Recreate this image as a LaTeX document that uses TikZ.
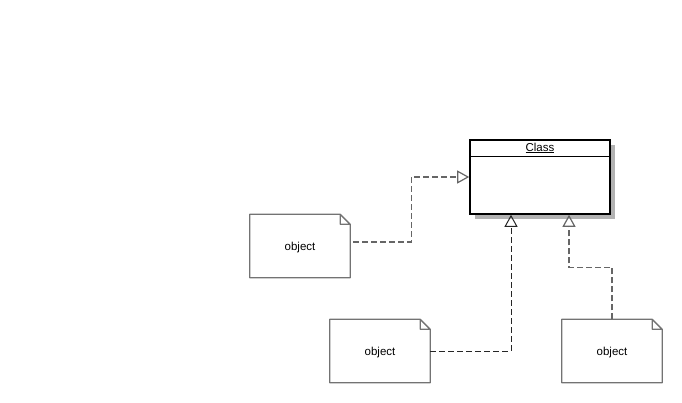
\documentclass[tikz,border=0pt]{standalone}
\usepackage{fontspec}
\setmainfont{Liberation Sans}
\usetikzlibrary{arrows.meta,shadows}

\begin{document}
\begin{tikzpicture}[x=1pt, y=-1pt, font=\fontsize{11.5}{13}\selectfont,
    classbox/.style={draw, line width=1.6pt, fill=white, minimum width=140pt, minimum height=74pt,
        drop shadow={shadow xshift=5pt, shadow yshift=-5pt, fill=black!30, opacity=1}},
    objnote/.style={minimum width=100pt, minimum height=63pt, inner sep=0pt, text depth=-2pt},
    realize/.style={dash pattern=on 6pt off 3pt, line width=1.2pt, -{Triangle[open, length=12pt, width=13pt]}}]
\useasboundingbox (0,0) rectangle (682,403);
\node[classbox] (cls) at (540,177) {};
\node[anchor=north, minimum height=17pt, inner sep=0pt] (clsname) at (cls.north) {\underline{Class}};
\draw[line width=1.4pt] (cls.west |- clsname.south) -- (cls.east |- clsname.south);
\node[objnote] (obj1) at (300,246) {object};
\node[objnote] (obj2) at (380,351) {object};
\node[objnote] (obj3) at (612,351) {object};
% dog-eared outlines
\foreach \n in {obj1,obj2,obj3}
    \draw[black!55, line width=1.3pt, line join=round]
        (\n.north west) -- ([xshift=-10pt]\n.north east) -- ([yshift=-10pt]\n.north east)
        -- (\n.south east) -- (\n.south west) -- cycle
        ([xshift=-10pt]\n.north east) -- ([xshift=-10pt,yshift=-10pt]\n.north east) -- ([yshift=-10pt]\n.north east);
\draw[realize, black!60] ([xshift=3pt,yshift=4pt]obj1.east) -- ++(58,0) |- (cls.west);
\draw[realize, black!85, line width=1pt] (obj2.east) -| ([xshift=-29pt]cls.south);
\draw[realize, black!60] (obj3.north) -- ++(0,-52) -| ([xshift=29pt]cls.south);
\end{tikzpicture}
\end{document}
